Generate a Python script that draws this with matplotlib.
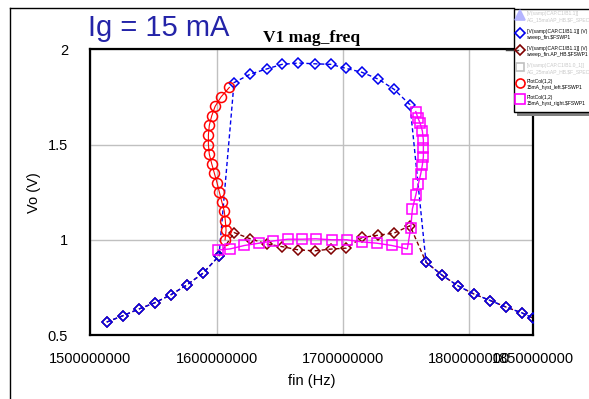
import numpy as np
import matplotlib
matplotlib.use("Agg")
import matplotlib.pyplot as plt
from matplotlib.lines import Line2D
from matplotlib.patches import Rectangle

plt.rcParams['font.family'] = ['Liberation Sans', 'DejaVu Sans']

# ---------------- data (frequency in MHz, voltage in V) ----------------
freq_mhz = [1512.9, 1525.6, 1538.2, 1550.9, 1563.6, 1576.2, 1589.2, 1601.8,
            1613.7, 1626.6, 1639.6, 1651.7, 1664.6, 1677.6, 1690.3, 1702.4,
            1715.1, 1728.0, 1740.4, 1753.0, 1765.7, 1778.4, 1791.0, 1803.7,
            1816.6, 1829.3, 1842.0, 1850.0]
# sweep up (upper branch)
vo_up = [0.568, 0.601, 0.636, 0.669, 0.711, 0.762, 0.825, 0.915,
         1.825, 1.870, 1.897, 1.921, 1.928, 1.924, 1.921, 1.900,
         1.879, 1.843, 1.790, 1.709, 0.882, 0.814, 0.758, 0.715,
         0.681, 0.646, 0.615, 0.590]
# AP_HB sweep (lower branch)
vo_hb = [0.568, 0.601, 0.636, 0.669, 0.711, 0.762, 0.825, 0.915,
         1.038, 1.005, 0.978, 0.964, 0.947, 0.942, 0.951, 0.956,
         1.012, 1.024, 1.035, 1.074, 0.882, 0.814, 0.758, 0.715,
         0.681, 0.646, 0.615, 0.590]

# hysteresis, left turning curve
left_mhz = [1610.0, 1603.4, 1598.7, 1596.0, 1594.1, 1593.4, 1593.4, 1594.1,
            1596.0, 1598.1, 1600.2, 1602.1, 1604.0, 1606.0, 1606.8, 1607.4,
            1606.6]
left_vo = [1.80, 1.75, 1.70, 1.65, 1.60, 1.55, 1.50, 1.45, 1.40, 1.35,
           1.30, 1.25, 1.20, 1.15, 1.10, 1.05, 1.00]

# hysteresis, right turning curve
right_mhz = [1601.0, 1610.6, 1621.9, 1633.5, 1644.8, 1656.2, 1667.8, 1678.4,
             1691.1, 1702.9, 1714.8, 1726.7, 1738.6, 1750.9, 1753.6, 1754.9,
             1757.6, 1759.6, 1761.5, 1762.8, 1763.6, 1763.6, 1763.6, 1762.8,
             1761.0, 1759.2, 1757.6]
right_vo = [0.946, 0.952, 0.970, 0.982, 0.994, 1.003, 1.003, 1.005,
            1.000, 1.000, 0.989, 0.982, 0.970, 0.952, 1.064, 1.162,
            1.235, 1.293, 1.346, 1.393, 1.436, 1.484, 1.524, 1.571,
            1.612, 1.641, 1.673]

xticks = [1500000000, 1600000000, 1700000000, 1800000000, 1850000000]
xtick_labels = ["1500000000", "1600000000", "1700000000", "1800000000", "1850000000"]
yticks = [0.5, 1, 1.5, 2]
ytick_labels = ["0.5", "1", "1.5", "2"]

legend_lines = [
    ("[V(samp)CAP.C1\\B1.1]]", "AG_15ma\\AP_HB.$F_SPEC"),
    ("[V(samp)CAP.C1\\B1.1]] (V)", "sweep_fin.$FSWP1"),
    ("[V(samp)CAP.C1\\B1.1]] (V)", "sweep_fin.AP_HB.$FSWP1"),
    ("[V(samp)CAP.C1\\B1.0_1]]", "AG_25ma\\AP_HB.$F_SPEC"),
    ("PlotCol(1,2)", "15mA_hyst_left.$FSWP1"),
    ("PlotCol(1,2)", "15mA_hyst_right.$FSWP1"),
]

hz = 1e6
blue = "#0000ee"
brown = "#800000"

fig = plt.figure(figsize=(5.89, 3.99), dpi=100)
ax = fig.add_axes([0.1535, 0.1604, 0.7506, 0.716])

ax.plot(np.array(freq_mhz) * hz, vo_hb, color=brown, ls=(0, (3, 2)), lw=1.0,
        marker="D", ms=4.6, mfc="none", mec=brown, mew=1.1, zorder=2)
ax.plot(np.array(freq_mhz) * hz, vo_up, color=blue, ls=(0, (3, 2)), lw=1.0,
        marker="D", ms=4.6, mfc="none", mec=blue, mew=1.1, zorder=3)
ax.plot(np.array(left_mhz) * hz, left_vo, color="red", lw=0.8,
        marker="o", ms=7.2, mfc="none", mec="red", mew=1.1, zorder=4)
ax.plot(np.array(right_mhz) * hz, right_vo, color="magenta", lw=1.0,
        marker="s", ms=6.5, mfc="none", mec="magenta", mew=1.1, zorder=5)

ax.set_xlim(1.5e9, 1.85e9)
ax.set_ylim(0.5, 2)
ax.set_xticks(xticks)
ax.set_xticklabels(xtick_labels, fontsize=10.5)
ax.set_yticks(yticks)
ax.set_yticklabels(ytick_labels, fontsize=10.5)
ax.tick_params(length=0, pad=12)
ax.tick_params(axis="y", pad=16)
ax.grid(True, color="#c0c0c0", lw=1)
ax.set_axisbelow(True)
for s in ax.spines.values():
    s.set_linewidth(1.6)
ax.set_xlabel("fin (Hz)", fontsize=10.5, labelpad=6)
ax.set_ylabel("Vo (V)", fontsize=10.5, labelpad=5)

W, H = 589.0, 399.0
fig.text(88 / W, 1 - 36 / H, "Ig = 15 mA", fontsize=21, color="#2424a8",
         ha="left", va="baseline")
fig.text(312 / W, 1 - 42 / H, "V1 mag_freq", fontsize=12.5, fontweight="bold",
         family=["Liberation Serif", "DejaVu Serif"], ha="center", va="baseline")

# outer frame
fig.add_artist(Line2D([10 / W, 10 / W], [0, 1 - 8 / H], color="black", lw=1))
fig.add_artist(Line2D([10 / W, 514 / W], [1 - 8 / H, 1 - 8 / H], color="black", lw=1))

# legend box
fig.add_artist(Rectangle((517 / W, 1 - 116 / H), 90 / W, 104 / H,
                         transform=fig.transFigure, facecolor="#808080",
                         edgecolor="none", zorder=9))
fig.add_artist(Rectangle((514 / W, 1 - 112 / H), 90 / W, 103 / H,
                         transform=fig.transFigure, facecolor="white",
                         edgecolor="black", lw=1, zorder=10))
fig.add_artist(Line2D([506 / W, 518 / W], [1 - 50 / H, 1 - 50 / H],
                      color="#404040", lw=1, zorder=11))

entry_y = [15, 33, 50, 67, 83, 99]
handles = [("^", "#b4b4ff", "#b4b4ff", 7),
           ("D", "none", blue, 5),
           ("D", "none", brown, 5),
           ("s", "none", "#c0c0c0", 5.5),
           ("o", "none", "red", 6.5),
           ("s", "none", "magenta", 6.5)]
text_cols = ["#c8c8c8", "black", "black", "#c8c8c8", "black", "black"]
for yy, (mk, fc, ec, ms), col, (l1, l2) in zip(entry_y, handles, text_cols, legend_lines):
    fig.add_artist(Line2D([520 / W], [1 - yy / H], marker=mk, ms=ms, mfc=fc,
                          mec=ec, mew=1.2, ls="none", zorder=12))
    fig.text(527 / W, 1 - (yy - 1.5) / H, l1, fontsize=3.6, color=col,
             va="center", zorder=12)
    fig.text(527 / W, 1 - (yy + 4.5) / H, l2, fontsize=3.6, color=col,
             va="center", zorder=12)

fig.savefig("out.png", dpi=100)
